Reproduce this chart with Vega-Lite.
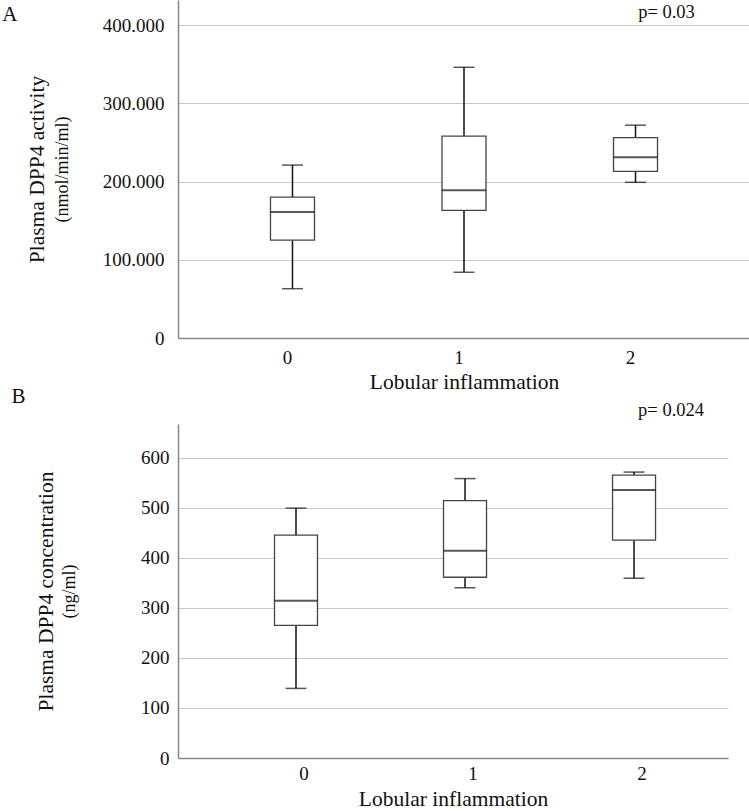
{
  "$schema": "https://vega.github.io/schema/vega-lite/v6.json",
  "padding": {"left": 2, "top": 0, "right": 0, "bottom": 0},
  "background": "white",
  "spacing": -7,
  "config": {
    "font": "Liberation Serif",
    "view": {"stroke": null},
    "axis": {
      "labelFont": "Liberation Serif",
      "titleFont": "Liberation Serif",
      "labelColor": "#111",
      "titleColor": "#111",
      "titleFontWeight": "normal",
      "domainColor": "#888888",
      "gridColor": "#c8c8c8",
      "ticks": false
    },
    "text": {"font": "Liberation Serif"},
    "title": {"font": "Liberation Serif", "fontWeight": "normal", "fontSize": 21, "anchor": "start", "frame": "bounds", "color": "#111"}
  },
  "vconcat": [
    {
      "width": 572,
      "height": 338,
      "title": {"text": "A", "offset": -25, "dx": -24},
      "data": {"values": [
        {"group": "0", "lower": 63, "q1": 125, "median": 161, "q3": 180, "upper": 221},
        {"group": "1", "lower": 84, "q1": 163, "median": 189, "q3": 258, "upper": 346},
        {"group": "2", "lower": 199, "q1": 213, "median": 231, "q3": 256, "upper": 272}
      ]},
      "encoding": {
        "x": {"field": "group", "type": "nominal",
          "scale": {"paddingInner": 0, "paddingOuter": 0.1675, "align": 0.5},
          "axis": {"labelAngle": 0, "labelOffset": -5, "labelFont": "Liberation Serif", "titleFont": "Liberation Serif", "labelFontSize": 19, "labelPadding": 10, "title": "Lobular inflammation", "titleFontSize": 21.5, "titlePadding": 4, "domainWidth": 1.5, "grid": false}}
      },
      "layer": [
        {"mark": {"type": "rule", "color": "#111", "strokeWidth": 1.5},
         "encoding": {
           "y": {"field": "lower", "type": "quantitative", "scale": {"domain": [0, 432], "nice": false},
             "axis": {"title": "Plasma DPP4 activity", "labelFont": "Liberation Serif", "titleFont": "Liberation Serif", "titleFontSize": 21.5, "titlePadding": 54, "values": [0, 100, 200, 300, 400],
               "labelExpr": "datum.value == 0 ? '0' : format(datum.value, '.3f')", "labelFontSize": 19, "labelPadding": 14, "grid": true, "domainWidth": 1.5}},
           "y2": {"field": "upper"}}},
        {"mark": {"type": "bar", "fill": "white", "stroke": "#444", "strokeWidth": 1.3, "size": 44},
         "encoding": {
           "y": {"field": "q1", "type": "quantitative",
             "axis": {"orient": "left", "title": "(nmol/min/ml)", "titleFont": "Liberation Serif", "titleFontSize": 18, "titlePadding": 107, "labels": false, "grid": false, "domain": false, "ticks": false}},
           "y2": {"field": "q3"}}},
        {"mark": {"type": "tick", "color": "#111", "thickness": 2, "size": 44},
         "encoding": {"y": {"field": "median", "type": "quantitative", "axis": null}}},
        {"mark": {"type": "tick", "color": "#111", "thickness": 1.5, "size": 21},
         "encoding": {"y": {"field": "lower", "type": "quantitative", "axis": null}}},
        {"mark": {"type": "tick", "color": "#111", "thickness": 1.5, "size": 21},
         "encoding": {"y": {"field": "upper", "type": "quantitative", "axis": null}}},
        {"data": {"values": [{"group": "2", "y": 417, "label": "p= 0.03"}]},
         "mark": {"type": "text", "dx": 31, "fontSize": 18.5, "font": "Liberation Serif", "color": "#111"},
         "encoding": {"y": {"field": "y", "type": "quantitative", "axis": null}, "text": {"field": "label"}}}
      ],
      "resolve": {"axis": {"y": "independent"}}
    },
    {
      "width": 550,
      "height": 334,
      "title": {"text": "B", "offset": -6, "dx": -24},
      "data": {"values": [
        {"group": "0", "lower": 139, "q1": 265, "median": 314, "q3": 445, "upper": 499},
        {"group": "1", "lower": 340, "q1": 361, "median": 414, "q3": 514, "upper": 558},
        {"group": "2", "lower": 359, "q1": 435, "median": 535, "q3": 565, "upper": 571}
      ]},
      "encoding": {
        "x": {"field": "group", "type": "nominal",
          "scale": {"paddingInner": 0, "paddingOuter": 0.127, "align": 0.78},
          "axis": {"labelAngle": 0, "labelOffset": 8, "labelFont": "Liberation Serif", "titleFont": "Liberation Serif", "labelFontSize": 19, "labelPadding": 6, "title": "Lobular inflammation", "titleFontSize": 21.5, "titlePadding": 5, "domainWidth": 1.5, "grid": false}}
      },
      "layer": [
        {"mark": {"type": "rule", "color": "#111", "strokeWidth": 1.5},
         "encoding": {
           "y": {"field": "lower", "type": "quantitative", "scale": {"domain": [0, 667], "nice": false},
             "axis": {"title": "Plasma DPP4 concentration", "labelFont": "Liberation Serif", "titleFont": "Liberation Serif", "titleFontSize": 21.5, "titlePadding": 83, "values": [0, 100, 200, 300, 400, 500, 600],
               "labelFontSize": 19, "labelPadding": 9, "grid": true, "domainWidth": 1.5}},
           "y2": {"field": "upper"}}},
        {"mark": {"type": "bar", "fill": "white", "stroke": "#444", "strokeWidth": 1.3, "size": 43},
         "encoding": {
           "y": {"field": "q1", "type": "quantitative",
             "axis": {"orient": "left", "title": "(ng/ml)", "titleFont": "Liberation Serif", "titleFontSize": 18, "titlePadding": 100, "labels": false, "grid": false, "domain": false, "ticks": false}},
           "y2": {"field": "q3"}}},
        {"mark": {"type": "tick", "color": "#111", "thickness": 2, "size": 43},
         "encoding": {"y": {"field": "median", "type": "quantitative", "axis": null}}},
        {"mark": {"type": "tick", "color": "#111", "thickness": 1.5, "size": 21},
         "encoding": {"y": {"field": "lower", "type": "quantitative", "axis": null}}},
        {"mark": {"type": "tick", "color": "#111", "thickness": 1.5, "size": 21},
         "encoding": {"y": {"field": "upper", "type": "quantitative", "axis": null}}},
        {"data": {"values": [{"group": "2", "y": 694, "label": "p= 0.024"}]},
         "mark": {"type": "text", "dx": 37, "fontSize": 18.5, "font": "Liberation Serif", "color": "#111"},
         "encoding": {"y": {"field": "y", "type": "quantitative", "axis": null}, "text": {"field": "label"}}}
      ],
      "resolve": {"axis": {"y": "independent"}}
    }
  ]
}
